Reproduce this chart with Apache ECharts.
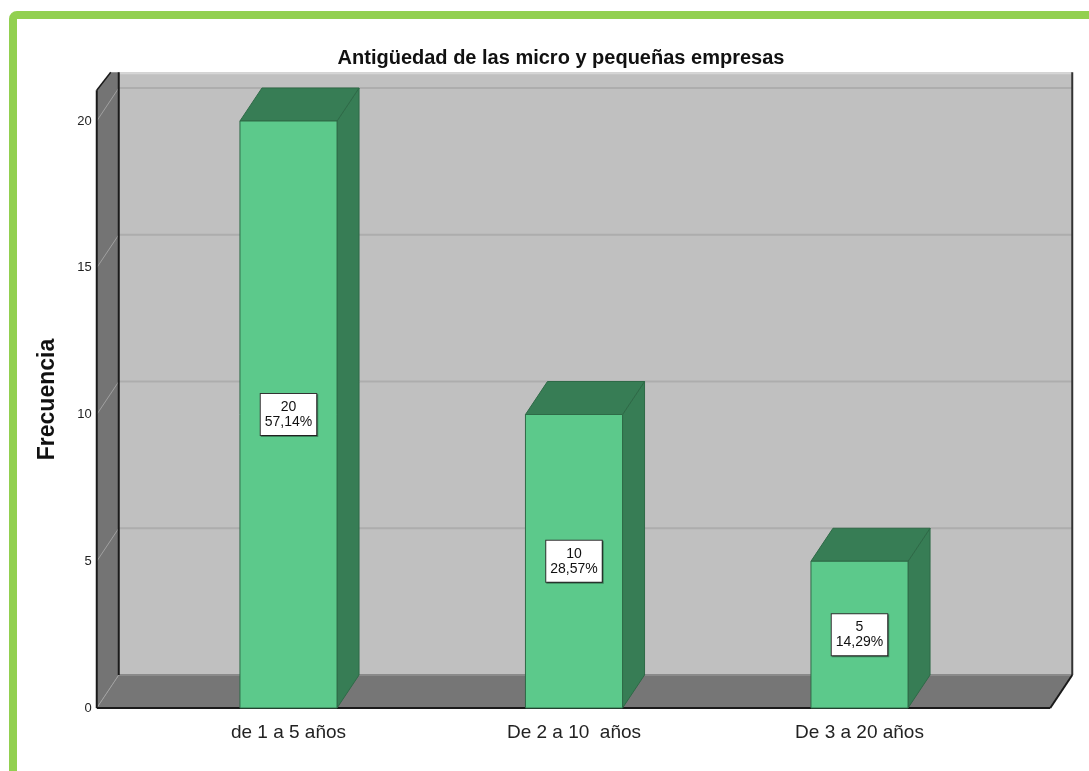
<!DOCTYPE html>
<html>
<head>
<meta charset="utf-8">
<script src="https://cdn.jsdelivr.net/npm/echarts@6/dist/echarts.min.js"></script>
<style>
html, body { margin: 0; padding: 0; background: #fff; }
#main { width: 1089px; height: 771px; }
</style>
</head>
<body>
<div id="main"></div>
<script>
// datos
var categorias = ['de 1 a 5 años', 'De 2 a 10  años', 'De 3 a 20 años'];
var frecuencias = [20, 10, 5];
var porcentajes = ['57,14%', '28,57%', '14,29%'];
var yTicks = [0, 5, 10, 15, 20];

var DX = 22, DY = -33;   // profundidad 3d
var FONT = '"Liberation Sans", Arial, sans-serif';

var myChart = echarts.init(document.getElementById('main'));

// paredes, piso y lineas de la grilla
function renderWalls(params, api) {
    var cs = params.coordSys;
    var xl = cs.x - 49, xr = cs.x + cs.width + 48;
    var y0 = api.coord([0, 0])[1];
    var yTop = api.coord([0, 21.05])[1];
    var kids = [];
    // pared del fondo
    kids.push({type: 'rect', shape: {x: xl + DX, y: yTop - 18, width: xr - xl, height: y0 + DY - yTop + 18},
        style: {fill: '#c0c0c0'}});
    kids.push({type: 'line', shape: {x1: xl + DX, y1: yTop - 17, x2: xr + DX, y2: yTop - 17},
        style: {stroke: '#d6d6d6', lineWidth: 2}});
    // pared izquierda
    kids.push({type: 'polygon', shape: {points: [[xl, y0], [xl, yTop], [xl + 14, yTop - 18], [xl + DX, yTop - 18], [xl + DX, y0 + DY]]},
        style: {fill: '#747474'}});
    // piso
    kids.push({type: 'polygon', shape: {points: [[xl, y0], [xr, y0], [xr + DX, y0 + DY], [xl + DX, y0 + DY]]},
        style: {fill: '#767676'}});
    kids.push({type: 'line', shape: {x1: xl + DX, y1: y0 + DY, x2: xr + DX, y2: y0 + DY},
        style: {stroke: '#8a8a8a', lineWidth: 2}});
    // grilla
    yTicks.forEach(function (v) {
        var y = api.coord([0, v])[1];
        if (v > 0) {
            kids.push({type: 'line', shape: {x1: xl + DX, y1: y + DY, x2: xr + DX, y2: y + DY},
                style: {stroke: '#adadad', lineWidth: 2}});
        }
        kids.push({type: 'line', shape: {x1: xl, y1: y, x2: xl + DX, y2: y + DY},
            style: {stroke: '#a0a0a0', lineWidth: 1}});
    });
    // bordes
    kids.push({type: 'line', shape: {x1: xl, y1: y0, x2: xl, y2: yTop}, style: {stroke: '#1a1a1a', lineWidth: 2}});
    kids.push({type: 'line', shape: {x1: xl + 14, y1: yTop - 18, x2: xl, y2: yTop}, style: {stroke: '#1a1a1a', lineWidth: 1.5}});
    kids.push({type: 'line', shape: {x1: xl + DX, y1: yTop - 18, x2: xl + DX, y2: y0 + DY}, style: {stroke: '#1a1a1a', lineWidth: 2}});
    kids.push({type: 'line', shape: {x1: xl, y1: y0, x2: xr, y2: y0}, style: {stroke: '#1a1a1a', lineWidth: 2}});
    kids.push({type: 'line', shape: {x1: xr, y1: y0, x2: xr + DX, y2: y0 + DY}, style: {stroke: '#1a1a1a', lineWidth: 2}});
    kids.push({type: 'line', shape: {x1: xr + DX, y1: y0 + DY, x2: xr + DX, y2: yTop - 18}, style: {stroke: '#333', lineWidth: 2}});
    return {type: 'group', children: kids};
}

// barras 3d
function renderBar(params, api) {
    var i = api.value(0);
    var v = api.value(1);
    var pb = api.coord([i, 0]);
    var pt = api.coord([i, v]);
    var w = api.size([1, 0])[0] * 0.34;
    var xa = pb[0] - w / 2, xb = pb[0] + w / 2;
    var yb = pb[1], yt = pt[1];
    var edge = {stroke: '#2e6a47', lineWidth: 1};
    return {
        type: 'group',
        children: [
            {type: 'polygon', shape: {points: [[xb, yt], [xb + DX, yt + DY], [xb + DX, yb + DY], [xb, yb]]},
                style: Object.assign({fill: '#377d55'}, edge)},
            {type: 'polygon', shape: {points: [[xa, yt], [xb, yt], [xb + DX, yt + DY], [xa + DX, yt + DY]]},
                style: Object.assign({fill: '#377d55'}, edge)},
            {type: 'rect', shape: {x: xa, y: yt, width: w, height: yb - yt},
                style: Object.assign({fill: '#5cc98b'}, edge)},
            {type: 'text', x: pb[0], y: (yb + yt) / 2,
                style: {
                    text: frecuencias[params.dataIndex] + '\n' + porcentajes[params.dataIndex],
                    align: 'center', verticalAlign: 'middle',
                    font: '14px ' + FONT, lineHeight: 15, fill: '#111',
                    backgroundColor: '#fff', borderColor: '#333', borderWidth: 1,
                    padding: [6, 4, 5, 4],
                    shadowColor: 'rgba(0,0,0,0.35)', shadowOffsetX: 1, shadowOffsetY: 1
                }}
        ]
    };
}

var barData = frecuencias.map(function (v, i) { return [i, v]; });

myChart.setOption(option = {
    backgroundColor: '#fff',
    animation: false,
    title: {
        text: 'Antigüedad de las micro y pequeñas empresas',
        left: 556,
        top: 43,
        textAlign: 'center',
        textStyle: {fontFamily: FONT, fontSize: 20, fontWeight: 'bold', color: '#111'}
    },
    graphic: [{
        type: 'rect',
        shape: {x: 13, y: 15, width: 1200, height: 900, r: 4},
        style: {fill: 'none', stroke: '#92d050', lineWidth: 8},
        z: 100
    }],
    grid: {left: 145.75, right: 86.75, top: 121, bottom: 63},
    xAxis: {
        type: 'category',
        data: categorias,
        axisLine: {show: false},
        axisTick: {show: false},
        axisLabel: {margin: 15, fontFamily: FONT, fontSize: 19, color: '#222'}
    },
    yAxis: {
        type: 'value',
        min: 0,
        max: 20,
        interval: 5,
        name: 'Frecuencia',
        nameLocation: 'middle',
        nameGap: 87,
        nameTextStyle: {fontFamily: FONT, fontSize: 23, fontWeight: 'bold', color: '#111', padding: [0, 0, 0, 30]},
        axisLine: {show: false},
        axisTick: {show: false},
        splitLine: {show: false},
        axisLabel: {margin: 54, fontFamily: FONT, fontSize: 13, color: '#222'}
    },
    series: [{
        type: 'custom',
        renderItem: renderWalls,
        data: [[0, 0]],
        clip: false,
        silent: true,
        z: 1
    }, {
        type: 'custom',
        renderItem: renderBar,
        data: barData,
        clip: false,
        z: 2
    }]
});
</script>
</body>
</html>
